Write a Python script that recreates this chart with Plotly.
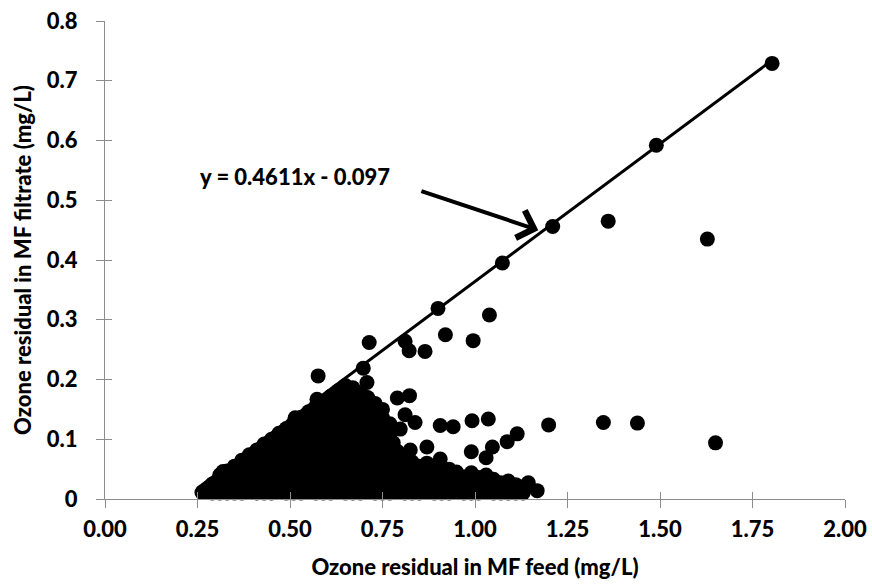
import plotly.graph_objects as go

# ---- Data ----
# Scattered / isolated points: ozone residual in MF feed vs MF filtrate (mg/L)
outlier_feed = [1.803, 1.490, 1.210, 1.360, 1.628, 1.074, 0.900, 1.039, 0.920, 0.995,
                0.811, 0.822, 0.865, 0.714, 0.576, 0.698, 0.708, 0.823, 0.790, 0.811,
                0.838, 0.798, 0.906, 0.941, 0.992, 1.036, 1.199, 1.347, 1.439, 1.650,
                0.779, 0.825, 0.870, 0.990, 1.047, 1.030, 1.087, 1.114, 0.906, 1.144,
                1.168, 1.109, 1.077, 0.573, 0.514, 0.500, 0.452, 0.397, 0.440, 0.319,
                0.350, 0.262]
outlier_filtrate = [0.729, 0.592, 0.456, 0.465, 0.435, 0.395, 0.319, 0.308, 0.275, 0.265,
                    0.264, 0.248, 0.247, 0.262, 0.206, 0.219, 0.195, 0.173, 0.169, 0.141,
                    0.128, 0.117, 0.123, 0.121, 0.131, 0.134, 0.124, 0.128, 0.127, 0.094,
                    0.094, 0.082, 0.087, 0.079, 0.087, 0.069, 0.096, 0.109, 0.067, 0.027,
                    0.014, 0.015, 0.016, 0.167, 0.136, 0.113, 0.093, 0.069, 0.069, 0.046,
                    0.041, 0.011]

# Dense cluster of measurements (feed value -> filtrate values observed at it)
cluster_feed = [0.27, 0.29, 0.31, 0.33, 0.35, 0.37, 0.39, 0.41, 0.43, 0.45,
                0.47, 0.49, 0.51, 0.53, 0.55, 0.57, 0.59, 0.61, 0.63, 0.65,
                0.67, 0.69, 0.71, 0.73, 0.75, 0.77, 0.79, 0.81, 0.83, 0.85,
                0.87, 0.89, 0.91, 0.93, 0.95, 0.97, 0.99, 1.01, 1.03, 1.05,
                1.07, 1.09, 1.11, 1.13]
cluster_filtrate = [
    [0.012],
    [0.010, 0.025],
    [0.010, 0.028, 0.040],
    [0.010, 0.016, 0.032, 0.047],
    [0.010, 0.026, 0.043, 0.055],
    [0.010, 0.018, 0.034, 0.050, 0.065],
    [0.011, 0.027, 0.044, 0.060, 0.074],
    [0.010, 0.018, 0.035, 0.052, 0.069, 0.082],
    [0.010, 0.026, 0.044, 0.061, 0.078, 0.092],
    [0.010, 0.018, 0.035, 0.053, 0.070, 0.087, 0.100],
    [0.011, 0.027, 0.045, 0.062, 0.079, 0.096, 0.110],
    [0.010, 0.019, 0.036, 0.054, 0.071, 0.088, 0.105, 0.118],
    [0.010, 0.027, 0.045, 0.063, 0.080, 0.097, 0.114, 0.128],
    [0.010, 0.019, 0.036, 0.054, 0.072, 0.089, 0.106, 0.123, 0.137],
    [0.011, 0.028, 0.046, 0.064, 0.081, 0.098, 0.115, 0.132, 0.146],
    [0.010, 0.019, 0.037, 0.055, 0.073, 0.090, 0.107, 0.124, 0.141, 0.155],
    [0.010, 0.028, 0.046, 0.064, 0.082, 0.099, 0.116, 0.133, 0.150, 0.163],
    [0.010, 0.019, 0.037, 0.055, 0.073, 0.091, 0.108, 0.125, 0.142, 0.159, 0.172],
    [0.011, 0.028, 0.046, 0.064, 0.082, 0.100, 0.117, 0.134, 0.151, 0.168, 0.181],
    [0.010, 0.019, 0.037, 0.055, 0.073, 0.091, 0.109, 0.126, 0.143, 0.160, 0.177, 0.190],
    [0.010, 0.028, 0.046, 0.064, 0.082, 0.100, 0.118, 0.135, 0.152, 0.169, 0.186],
    [0.010, 0.019, 0.037, 0.055, 0.073, 0.091, 0.109, 0.127, 0.144, 0.161, 0.178],
    [0.011, 0.028, 0.046, 0.064, 0.082, 0.100, 0.118, 0.136, 0.153, 0.170],
    [0.010, 0.019, 0.037, 0.055, 0.073, 0.091, 0.109, 0.127, 0.145, 0.160],
    [0.010, 0.028, 0.046, 0.064, 0.082, 0.100, 0.118, 0.136, 0.150],
    [0.010, 0.019, 0.037, 0.055, 0.073, 0.091, 0.109, 0.126],
    [0.011, 0.028, 0.046, 0.064, 0.080],
    [0.010, 0.019, 0.037, 0.055, 0.068],
    [0.010, 0.028, 0.046, 0.062],
    [0.010, 0.019, 0.037, 0.055],
    [0.011, 0.028, 0.046, 0.060],
    [0.010, 0.019, 0.037, 0.052],
    [0.010, 0.028, 0.046],
    [0.010, 0.019, 0.037, 0.050],
    [0.011, 0.028, 0.045],
    [0.010, 0.019, 0.037],
    [0.010, 0.028, 0.044],
    [0.010, 0.019, 0.036],
    [0.011, 0.028, 0.040],
    [0.010, 0.018, 0.033],
    [0.010, 0.027],
    [0.010, 0.017, 0.030],
    [0.010, 0.024],
    [0.010, 0.018],
]

# Linear fit shown on the chart
fit_slope = 0.4611
fit_intercept = -0.097
fit_x = [0.25, 1.803]
fit_label = "y = 0.4611x - 0.097"

x_ticks = [0, 0.25, 0.5, 0.75, 1.0, 1.25, 1.5, 1.75, 2.0]
x_tick_text = ["0.00", "0.25", "0.50", "0.75", "1.00", "1.25", "1.50", "1.75", "2.00"]
y_ticks = [0, 0.1, 0.2, 0.3, 0.4, 0.5, 0.6, 0.7, 0.8]
y_tick_text = ["0", "0.1", "0.2", "0.3", "0.4", "0.5", "0.6", "0.7", "0.8"]

# ---- Build ----
all_x, all_y = [], []
for fx, ys in zip(cluster_feed, cluster_filtrate):
    for fy in ys:
        all_x.append(fx)
        all_y.append(fy)
all_x += outlier_feed
all_y += outlier_filtrate

fit_y = [fit_slope * v + fit_intercept for v in fit_x]

FONT = "Lato, 'Open Sans', sans-serif"
FS = 22
AXIS_GRAY = "#8c8c8c"

def bold(size=FS):
    return dict(family=FONT, size=size, color="black", weight=900)

fig = go.Figure()
fig.add_trace(go.Scatter(
    x=fit_x, y=fit_y, mode="lines",
    line=dict(color="black", width=3),
    cliponaxis=False, showlegend=False))
fig.add_trace(go.Scatter(
    x=all_x, y=all_y, mode="markers",
    marker=dict(color="black", size=15, line=dict(width=0)),
    cliponaxis=False, showlegend=False, hoverinfo="x+y"))
# invisible trace for the inner-tick overlay axes
fig.add_trace(go.Scatter(x=[None], y=[None], xaxis="x2", yaxis="y2",
                         showlegend=False, hoverinfo="skip"))

fig.update_layout(
    width=872, height=588,
    margin=dict(l=105, r=27, t=21, b=89),
    paper_bgcolor="white", plot_bgcolor="white",
    font=bold(),
    xaxis=dict(
        range=[0, 2], tickvals=x_ticks, ticktext=x_tick_text, automargin=False,
        showgrid=False, zeroline=False, showline=True, linecolor=AXIS_GRAY, linewidth=1.3,
        ticks="outside", ticklen=8, tickcolor=AXIS_GRAY, tickwidth=1.3,
        ticklabelstandoff=2,
        tickfont=bold(),
        title=dict(text="Ozone residual in MF feed (mg/L)", standoff=19, font=bold()),
    ),
    yaxis=dict(
        range=[0, 0.8], tickvals=y_ticks, ticktext=y_tick_text, automargin=False,
        showgrid=False, zeroline=False, showline=True, linecolor=AXIS_GRAY, linewidth=1.3,
        ticks="outside", ticklen=8, tickcolor=AXIS_GRAY, tickwidth=1.3,
        ticklabelstandoff=14,
        tickfont=bold(),
        title=dict(text="Ozone residual in MF filtrate (mg/L)", standoff=8, font=bold()),
    ),
    xaxis2=dict(
        range=[0, 2], tickvals=x_ticks, overlaying="x", anchor="y2", side="bottom",
        automargin=False,
        showgrid=False, zeroline=False, showline=False, showticklabels=False,
        ticks="inside", ticklen=7, tickcolor=AXIS_GRAY, tickwidth=1.3,
    ),
    yaxis2=dict(
        range=[0, 0.8], tickvals=y_ticks, overlaying="y", anchor="x2", side="left",
        automargin=False,
        showgrid=False, zeroline=False, showline=False, showticklabels=False,
        ticks="inside", ticklen=7, tickcolor=AXIS_GRAY, tickwidth=1.3,
    ),
    annotations=[
        dict(x=0.514, y=0.540, xref="x", yref="y", text=fit_label, showarrow=False,
             font=bold()),
        dict(x=1.171, y=0.450, xref="x", yref="y", ax=0.851, ay=0.516,
             axref="x", ayref="y", text="", showarrow=True,
             arrowhead=4, arrowsize=1.4, arrowwidth=4, arrowcolor="black", standoff=0),
    ],
)

fig.write_html("out.html")
